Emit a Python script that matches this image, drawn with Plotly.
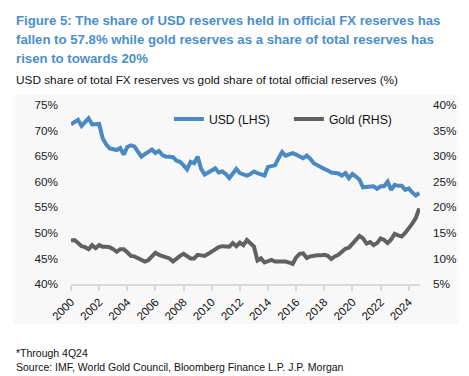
import plotly.graph_objects as go

years = list(range(2000, 2025))
quarters = [1, 2, 3, 4]

usd_share = [
    71.2, 71.6, 72.1, 70.9,
    71.6, 72.4, 71.2, 71.3,
    71.3, 68.5, 67.3, 66.5,
    66.4, 66.2, 66.6, 65.3,
    66.8, 67.1, 66.9, 65.8,
    64.9, 65.4, 65.9, 66.3,
    65.6, 66.0, 65.2, 64.9,
    64.9, 64.8, 64.1, 63.9,
    63.2, 62.4, 63.9, 63.6,
    64.9, 62.5, 61.4, 61.8,
    62.0, 62.6, 61.8, 62.0,
    61.5, 60.7, 61.6, 62.5,
    61.7, 61.4, 61.2, 61.5,
    62.0, 61.7, 61.4, 61.2,
    62.9, 63.0, 63.2, 64.6,
    65.8, 65.1, 65.4, 65.6,
    65.3, 65.0, 64.6, 65.1,
    64.5, 63.6, 63.2, 62.7,
    62.5, 62.2, 61.8, 61.7,
    61.6, 61.2, 61.7, 60.7,
    61.5, 61.0, 60.4, 58.9,
    59.0, 59.1, 59.1, 58.6,
    59.1, 59.1, 60.0, 58.4,
    59.4, 59.2, 59.2, 58.4,
    58.7, 57.9, 57.3, 57.8,
]

gold_share = [
    13.5, 13.6, 13.0, 12.4,
    12.2, 11.8, 12.6, 12.0,
    12.6, 12.3, 12.3, 12.2,
    11.8, 11.3, 11.8, 11.8,
    11.2, 10.5, 10.4, 10.1,
    9.6, 9.4, 9.7, 10.3,
    11.1, 10.7, 10.4, 10.3,
    10.0, 9.4, 10.0, 10.5,
    10.9, 10.5, 10.0, 10.0,
    10.7, 10.6, 10.5, 10.9,
    11.3, 11.9, 12.2, 12.4,
    12.3, 12.3, 13.0, 12.4,
    13.1, 12.6, 13.6, 12.8,
    12.3, 9.6, 10.0, 9.2,
    9.5, 9.7, 9.4, 9.4,
    9.4, 9.4, 9.2, 8.9,
    10.2, 10.9, 11.0, 10.1,
    10.4, 10.6, 10.6, 10.6,
    10.7, 10.5, 9.9, 10.4,
    10.7, 11.3, 11.9, 12.1,
    12.8, 13.6, 14.4, 13.9,
    12.9, 13.2, 12.6, 13.0,
    13.9, 13.6, 13.0, 13.7,
    14.8, 14.5, 14.3, 15.0,
    15.8, 16.8, 17.9, 19.8,
]

x_tick_vals = list(range(2000, 2025, 2))
x_tick_text = [str(v) for v in x_tick_vals]

title_lines = [
    "Figure 5: The share of USD reserves held in official FX reserves has",
    "fallen to 57.8% while gold reserves as a share of total reserves has",
    "risen to towards 20%",
]
subtitle = "USD share of total FX reserves vs gold share of total official reserves (%)"
footnotes = ["*Through 4Q24", "Source: IMF, World Gold Council, Bloomberg Finance L.P. J.P. Morgan"]

x_vals = [y + (q - 1) / 4 for y in years for q in quarters]

FONT = "Liberation Sans, Arial, sans-serif"
W, H = 469, 376
ML, MR, MT, MB = 71, 45, 105, 92
PH = H - MT - MB
PW = W - ML - MR


def py(ypx):
    return (H - MB - ypx) / PH


def px(xpx):
    return (xpx - ML) / PW


fig = go.Figure()
fig.add_trace(go.Scatter(x=x_vals, y=usd_share, name="USD (LHS)", mode="lines",
                         line=dict(color="#4a89c2", width=4), yaxis="y"))
fig.add_trace(go.Scatter(x=x_vals, y=gold_share, name="Gold (RHS)", mode="lines",
                         line=dict(color="#616161", width=4), yaxis="y2"))

annotations = []
for i, t in enumerate(title_lines):
    annotations.append(dict(text="<b>%s</b>" % t, x=px(13), y=py(20 + i * 19.5), xref="paper", yref="paper",
                            xanchor="left", yanchor="middle", showarrow=False,
                            font=dict(family=FONT, size=13.2, color="#4a8fcc")))
annotations.append(dict(text=subtitle, x=px(13), y=py(80), xref="paper", yref="paper",
                        xanchor="left", yanchor="middle", showarrow=False,
                        font=dict(family=FONT, size=11.8, color="#111111")))
for i, t in enumerate(footnotes):
    annotations.append(dict(text=t, x=px(13), y=py(353 + i * 14), xref="paper", yref="paper",
                            xanchor="left", yanchor="middle", showarrow=False,
                            font=dict(family=FONT, size=10.5, color="#111111")))

fig.update_layout(
    width=W, height=H,
    margin=dict(l=ML, r=MR, t=MT, b=MB, pad=0),
    paper_bgcolor="white",
    plot_bgcolor="rgba(0,0,0,0)",
    font=dict(family=FONT, size=11.5, color="#111111"),
    showlegend=True,
    legend=dict(orientation="h", x=px(170), y=py(119), xanchor="left", yanchor="middle",
                bgcolor="rgba(0,0,0,0)", font=dict(family=FONT, size=12.2, color="#111111"),
                itemwidth=30, entrywidth=75, entrywidthmode="pixels", tracegroupgap=0),
    xaxis=dict(range=[2000, 2024.8], tickvals=x_tick_vals, ticktext=x_tick_text, tickangle=-45,
               showgrid=False, zeroline=False, showline=True, linecolor="#d9d9d9", linewidth=1.5,
               ticks="outside", ticklen=5, tickcolor="#d9d9d9", tickwidth=1.5,
               tickfont=dict(family=FONT, size=11.5, color="#111111")),
    yaxis=dict(range=[40, 75], dtick=5, ticksuffix="%", showgrid=False, zeroline=False,
               showline=False, ticklabelstandoff=12,
               tickfont=dict(family=FONT, size=11.8, color="#222222")),
    yaxis2=dict(range=[5, 40], dtick=5, ticksuffix="%", overlaying="y", side="right",
                showgrid=False, zeroline=False, showline=False, ticklabelstandoff=12,
                tickfont=dict(family=FONT, size=11.8, color="#222222")),
    annotations=annotations,
    shapes=[dict(type="rect", xref="paper", yref="paper", x0=px(13), x1=px(463), y0=py(324), y1=py(95),
                 fillcolor="#f8f8f8", line=dict(width=0), layer="below")],
)

fig.write_html("out.html", config={"displayModeBar": False},
               post_script="document.body.style.margin='0px';document.body.style.overflow='hidden';")
